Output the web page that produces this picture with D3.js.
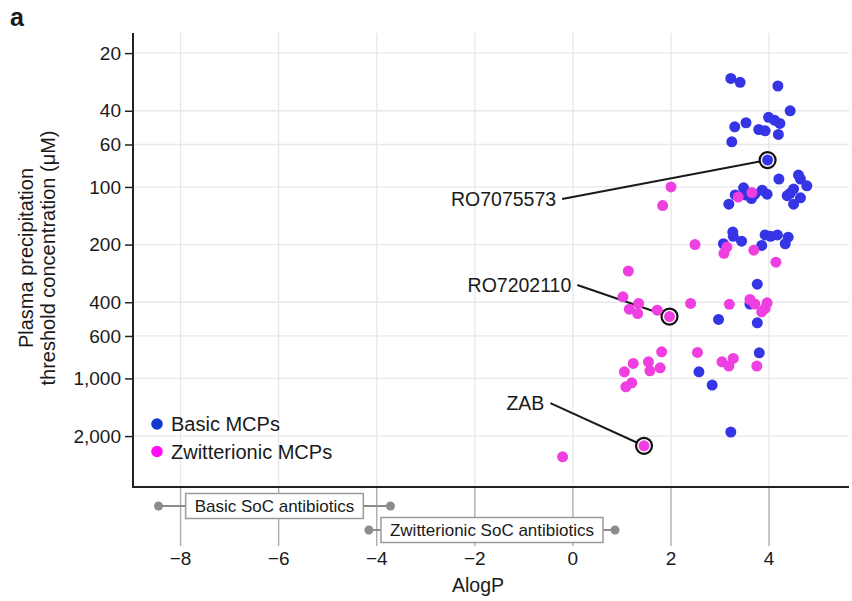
<!DOCTYPE html>
<html>
<head>
<meta charset="utf-8">
<script src="https://cdn.jsdelivr.net/npm/d3@7"></script>
<style>
  body { margin: 0; background: #fff; }
  text { font-family: "Liberation Sans", Arial, sans-serif; fill: #1a1a1a; }
</style>
</head>
<body>
<svg width="852" height="601"></svg>
<script>
// Basic MCPs (AlogP, threshold conc in uM)
var basicAlogP = [3.22, 3.41, 4.18, 4.43, 3.99, 4.11, 4.22, 3.53, 3.30, 3.79, 3.92, 4.19, 3.24, 3.97,
  4.20, 4.60, 4.64, 4.77, 4.50, 4.43, 4.37, 4.64, 4.50, 3.18, 3.31, 3.48, 3.52, 3.64, 3.71, 3.86, 3.96,
  3.26, 3.27, 3.07, 3.44, 3.92, 4.03, 4.17, 4.39, 3.85, 4.33,
  3.76, 3.61, 2.97, 3.76, 3.80, 2.57, 2.84, 3.22]
var basicConc = [27.1, 28.4, 29.7, 40.0, 43.3, 44.8, 46.6, 46.2, 48.5, 50.1, 50.9, 53.2, 58.1, 72.4,
  91, 86.7, 91, 98.6, 102.6, 108, 111, 114, 123, 123, 110, 101, 110, 115, 109, 104, 109,
  172, 181, 198, 192, 178, 181, 178, 183, 202, 198,
  322, 409, 492, 512, 735, 923, 1083, 1906]

// Zwitterionic MCPs
var zwitAlogP = [3.65, 3.37, 2.00, 1.83, 2.49, 3.14, 3.08, 3.69, 4.14,
  1.13, 1.02, 1.34, 1.15, 1.32, 1.72, 1.97, 2.40, 3.19, 3.61, 3.71, 3.96, 3.85, 3.92,
  1.81, 1.23, 1.54, 1.57, 1.78, 1.05, 1.20, 1.08, 2.54, 3.04, 3.27, 3.18, 3.75,
  1.45, -0.21]
var zwitConc = [107, 113, 100, 125, 200, 206, 222, 214, 247,
  275, 375, 406, 435, 458, 440, 475, 406, 410, 387, 409, 403, 449, 431,
  726, 835, 819, 912, 880, 923, 1054, 1106, 731, 819, 786, 862, 862,
  2248, 2566]

// highlighted compounds: label, point, where the label line starts
var annNames = ['RO7075573', 'RO7202110', 'ZAB']
var annAlogP = [3.97, 1.97, 1.45]
var annConc = [72.4, 475, 2248]
var annLabelX = [-0.22, 0.09, -0.46]
var annLabelY = [115.7, 325, 1345]

// standard of care ranges
var socNames = ['Basic SoC antibiotics', 'Zwitterionic SoC antibiotics']
var socMin = [-8.45, -4.16]
var socMax = [-3.72, 0.86]

var xTicks = [-8, -6, -4, -2, 0, 2, 4]
var yTicks = [20, 40, 60, 100, 200, 400, 600, 1000, 2000]

var plotL = 133, plotR = 849, plotT = 33, plotB = 487

var svg = d3.select('svg')

var x = d3.scaleLinear().domain([-8.97, 5.63]).range([plotL, plotR])
var y = d3.scaleLog().domain([15.7, 3690]).range([plotT, plotB])
var fmt = d3.format(',')

// grid
svg.append('g').selectAll('line').data(xTicks).enter().append('line')
    .attr('x1', function(d) { return x(d) }).attr('x2', function(d) { return x(d) })
    .attr('y1', plotT).attr('y2', plotB)
    .attr('stroke', '#e8e8e8').attr('stroke-width', 1.3)
svg.append('g').selectAll('line').data(yTicks).enter().append('line')
    .attr('x1', plotL).attr('x2', plotR)
    .attr('y1', function(d) { return y(d) }).attr('y2', function(d) { return y(d) })
    .attr('stroke', '#e8e8e8').attr('stroke-width', 1.3)

// lower panel grid lines (act as x ticks)
svg.append('g').selectAll('line').data(xTicks).enter().append('line')
    .attr('x1', function(d) { return x(d) }).attr('x2', function(d) { return x(d) })
    .attr('y1', plotB).attr('y2', 546)
    .attr('stroke', '#a8a8a8').attr('stroke-width', 1.3)

// y axis
var yAxis = d3.axisLeft(y).tickValues(yTicks).tickFormat(fmt).tickSize(8).tickPadding(4)
var gy = svg.append('g').attr('transform', 'translate(' + plotL + ',0)').call(yAxis)
gy.select('.domain').remove()
gy.selectAll('.tick line').attr('stroke', '#222').attr('stroke-width', 1.5)
gy.selectAll('.tick text').style('font-size', '19px').attr('fill', '#1a1a1a')
    .style('font-family', '"Liberation Sans", Arial, sans-serif')

// x tick labels
svg.append('g').selectAll('text').data(xTicks).enter().append('text')
    .attr('x', function(d) { return x(d) })
    .attr('y', 565)
    .attr('text-anchor', 'middle')
    .style('font-size', '19px')
    .text(function(d) { return d < 0 ? '\u2212' + Math.abs(d) : d })

// axis lines
svg.append('path')
    .attr('d', 'M' + plotL + ',' + plotT + 'V' + plotB + 'H' + plotR)
    .attr('fill', 'none').attr('stroke', '#222').attr('stroke-width', 2)

// annotation lines
var ringR = 8
annNames.forEach(function(n, i) {
    var px = x(annAlogP[i]), py = y(annConc[i])
    var lx = x(annLabelX[i]), ly = y(annLabelY[i])
    var dx = px - lx, dy = py - ly, len = Math.sqrt(dx * dx + dy * dy)
    svg.append('line')
        .attr('x1', lx).attr('y1', ly)
        .attr('x2', px - dx / len * ringR).attr('y2', py - dy / len * ringR)
        .attr('stroke', '#1a1a1a').attr('stroke-width', 2)
    svg.append('text')
        .attr('x', lx - 6).attr('y', ly + 7)
        .attr('text-anchor', 'end')
        .style('font-size', '19.5px')
        .text(n)
    svg.append('circle')
        .attr('cx', px).attr('cy', py).attr('r', ringR)
        .attr('fill', '#fff').attr('stroke', '#111').attr('stroke-width', 2.2)
})

// points
var blue = '#3535e6', pink = '#ef3fe0'
svg.append('g').selectAll('circle').data(basicAlogP).enter().append('circle')
    .attr('cx', function(d) { return x(d) })
    .attr('cy', function(d, i) { return y(basicConc[i]) })
    .attr('r', 5.5).attr('fill', blue)
svg.append('g').selectAll('circle').data(zwitAlogP).enter().append('circle')
    .attr('cx', function(d) { return x(d) })
    .attr('cy', function(d, i) { return y(zwitConc[i]) })
    .attr('r', 5.5).attr('fill', pink)

// legend
var legNames = ['Basic MCPs', 'Zwitterionic MCPs']
var legColors = ['#1238d0', '#ff10f2']
var leg = svg.append('g').selectAll('g').data(legNames).enter().append('g')
    .attr('transform', function(d, i) { return 'translate(157,' + (424 + i * 27.5) + ')' })
leg.append('circle').attr('r', 5.8).attr('fill', function(d, i) { return legColors[i] })
leg.append('text').attr('x', 14).attr('y', 7).style('font-size', '20px').text(function(d) { return d })

// SoC ranges in lower panel
var socY = [506, 530]
socNames.forEach(function(n, i) {
    var g = svg.append('g')
    var x0 = x(socMin[i]), x1 = x(socMax[i]), cy = socY[i]
    g.append('line').attr('x1', x0).attr('x2', x1).attr('y1', cy).attr('y2', cy)
        .attr('stroke', '#8c8c8c').attr('stroke-width', 2)
    g.selectAll('circle').data([x0, x1]).enter().append('circle')
        .attr('cx', function(d) { return d }).attr('cy', cy).attr('r', 4.5).attr('fill', '#8c8c8c')
    var t = g.append('text')
        .attr('x', (x0 + x1) / 2).attr('y', cy + 6)
        .attr('text-anchor', 'middle')
        .style('font-size', '17px')
        .text(n)
    var w = t.node().getComputedTextLength() + 18
    g.insert('rect', 'text')
        .attr('x', (x0 + x1) / 2 - w / 2).attr('y', cy - 12.5)
        .attr('width', w).attr('height', 25)
        .attr('fill', '#fff').attr('stroke', '#9a9a9a').attr('stroke-width', 1.5)
})

// axis titles
svg.append('text')
    .attr('x', 478).attr('y', 592)
    .attr('text-anchor', 'middle')
    .style('font-size', '19.5px')
    .text('AlogP')
var yt = svg.append('text')
    .attr('transform', 'translate(33,258) rotate(-90)')
    .attr('text-anchor', 'middle')
    .style('font-size', '20px')
yt.append('tspan').attr('x', 0).attr('y', 0).text('Plasma precipitation')
yt.append('tspan').attr('x', 0).attr('y', 22).text('threshold concentration (\u03bcM)')

// panel letter
svg.append('text')
    .attr('x', 10).attr('y', 26)
    .style('font-size', '25px').style('font-weight', 'bold')
    .text('a')
</script>
</body>
</html>
